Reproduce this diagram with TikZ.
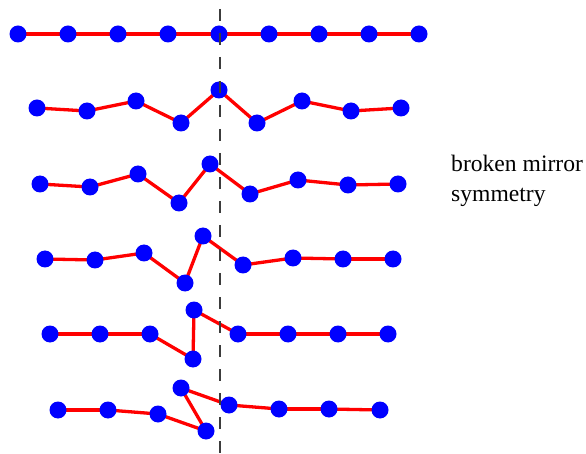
\documentclass[tikz,border=0pt]{standalone}
\usepackage{fontspec}
\setmainfont{Liberation Serif}
\usepackage{tikz}
\usetikzlibrary{backgrounds}
\definecolor{blue1}{RGB}{0,0,255}
\definecolor{red1}{RGB}{255,0,0}
\definecolor{gray1}{RGB}{60,60,60}
\tikzset{
  atom/.style={circle, fill=blue1, inner sep=0pt, minimum size=17pt},
  bond/.style={red1, line width=3.3pt},
  mirror/.style={gray1, line width=1.3pt, dash pattern=on 12pt off 12pt}
}
\begin{document}
\begin{tikzpicture}[x=1pt, y=-1pt]
    \useasboundingbox (0,0) rectangle (586,454);
    % Chains, top to bottom
    \foreach \x/\y [count=\i] in {18/34,68/34,118/34,168/34,219/34,269/34,319/34,369/34,419/34}
        \node[atom] (a\i) at (\x,\y) {};
    \foreach \x/\y [count=\i] in {37/108,87/111,136/101,181/123,219/90,257/123,302/101,351/111,401/108}
        \node[atom] (b\i) at (\x,\y) {};
    \foreach \x/\y [count=\i] in {40/184,90/187,138/174,179/203,210/164,250/194,298/180,348/185,398/184}
        \node[atom] (c\i) at (\x,\y) {};
    \foreach \x/\y [count=\i] in {45/259,95/260,144/253,185/283,203/236,243/265,293/258,343/259,393/259}
        \node[atom] (d\i) at (\x,\y) {};
    \foreach \x/\y [count=\i] in {50/334,100/334,150/334,193/359,194/310,238/334,288/334,338/334,388/334}
        \node[atom] (e\i) at (\x,\y) {};
    \foreach \x/\y [count=\i] in {58/410,108/410,158/414,206/431,181/388,229/405,279/409,329/409,380/410}
        \node[atom] (f\i) at (\x,\y) {};
    % Bonds
    \begin{scope}[on background layer]
        \foreach \r in {a,b,c,d,e,f}{
            \foreach \i [evaluate=\i as \j using int(\i+1)] in {1,...,8}
                \draw[bond] (\r\i.center) -- (\r\j.center);
        }
    \end{scope}
    % Mirror plane
    \coordinate (mtop) at (220,9);
    \coordinate (mbot) at (220,454);
    \draw[mirror] (mtop) -- (mbot);
    % Label
    \node[anchor=west, align=left, inner sep=0pt, font=\fontsize{23.6}{30}\selectfont]
        (lbl) at (451,181) {broken mirror\\symmetry};
\end{tikzpicture}
\end{document}
